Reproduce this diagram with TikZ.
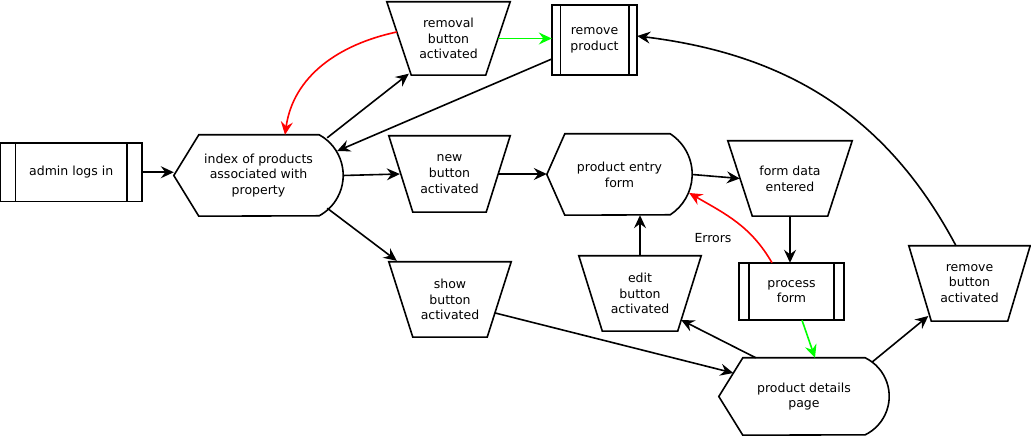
\documentclass[tikz,border=0pt]{standalone}
\usepackage{fontspec}
\setmainfont{DejaVu Sans}
\usetikzlibrary{arrows.meta}
\tikzset{
  box/.style={draw=none, inner sep=0pt, align=center, font=\fontsize{12.5}{15.8}\selectfont},
  outline/.style={draw=black, line width=1.6pt, line join=miter},
  conn/.style={line width=1.6pt, -{Stealth[length=13pt,width=12pt,inset=4.5pt]}},
}
\newcommand\trapout[2]{\draw[outline] (#1.north west) -- (#1.north east) -- ([xshift=-#2pt]#1.south east) -- ([xshift=#2pt]#1.south west) -- cycle;}
\newcommand\predout[2]{\draw[outline] (#1.south west) rectangle (#1.north east);
  \draw[outline] ([xshift=#2pt]#1.south west) -- ([xshift=#2pt]#1.north west);
  \draw[outline] ([xshift=-#2pt]#1.south east) -- ([xshift=-#2pt]#1.north east);}
\newcommand\dispout[5]{\draw[outline] (#1.west) -- ([xshift=#2pt]#1.north west) -- ([xshift=-#3pt]#1.north east) arc[start angle=#4, end angle=-#4, radius=#5pt] -- ([xshift=#2pt]#1.south west) -- cycle;}
\begin{document}
\begin{tikzpicture}[x=1pt,y=1pt]
\useasboundingbox (0,0) rectangle (1031,436);
% nodes
\node[box, minimum width=141pt, minimum height=58.5pt] (admin) at (71.25,263.75) {admin logs in};
\node[box, minimum width=169pt, minimum height=81pt] (idx) at (258.5,260.5) {index of products\\associated with\\property};
\node[box, minimum width=123pt, minimum height=73pt] (rem) at (448.5,397.5) {removal\\button\\activated};
\node[box, minimum width=85pt, minimum height=70pt] (rp) at (594.5,396) {remove\\product};
\node[box, minimum width=121pt, minimum height=76pt] (new) at (449.5,262) {new\\button\\activated};
\node[box, minimum width=145pt, minimum height=81pt] (pef) at (619.5,261.5) {product entry\\form};
\node[box, minimum width=124pt, minimum height=75pt] (fde) at (790,257.5) {form data\\entered};
\node[box, minimum width=105pt, minimum height=57pt] (pf) at (791.5,144.5) {process\\form};
\node[box, minimum width=122pt, minimum height=75pt] (edit) at (640,142.5) {edit\\button\\activated};
\node[box, minimum width=122pt, minimum height=75pt] (show) at (450,136.5) {show\\button\\activated};
\node[box, minimum width=170pt, minimum height=77pt] (pdp) at (804,39.5) {product details\\page};
\node[box, minimum width=121pt, minimum height=75pt] (rba) at (969.5,152.5) {remove\\button\\activated};
% outlines
\predout{admin}{15}
\dispout{idx}{25}{24}{61.3}{46.17}
\trapout{rem}{24.5}
\predout{rp}{8.5}
\trapout{new}{24}
\dispout{pef}{18}{22}{57.0}{48.28}
\trapout{fde}{24.5}
\predout{pf}{10}
\trapout{edit}{23.5}
\trapout{show}{24}
\dispout{pdp}{24}{24}{63.9}{42.88}
\trapout{rba}{22.5}
% connectors
\draw[conn] (admin.east) -- (admin.east -| idx.west);
\draw[conn] ([shift={(-16,-3)}]idx.north east) -- ([shift={(22,1.5)}]rem.south west);
\draw[conn] ([yshift=-19pt]rp.west) -- ([shift={(-6,24.5)}]idx.east);
\draw[conn] (idx.east) -- ([xshift=11pt]new.west);
\draw[conn] ([shift={(-16,8)}]idx.south east) -- ([shift={(8,1)}]show.north west);
\draw[conn] ([xshift=-11.5pt]new.east) -- (new.east -| pef.west);
\draw[conn, green] ([xshift=-12pt]rem.east) -- (rem.east -| rp.west);
\draw[conn, red] ([shift={(10,6.5)}]rem.west) to[out=192, in=82] ([xshift=26.5pt]idx.north);
\draw[conn] ([xshift=-13.5pt]rba.north) to[out=118, in=-7] ([yshift=4pt]rp.east);
\draw[conn] (pef.east) -- ([xshift=12pt]fde.west);
\draw[conn] (fde.south) -- (fde.south |- pf.north);
\draw[conn] (edit.north) -- (edit.north |- pef.south);
\draw[conn, red] ([xshift=-19.5pt]pf.north) to[out=120, in=-30] ([shift={(-3,-18.5)}]pef.east);
\node[box] (err) at (713,198) {Errors};
\draw[conn, green] ([xshift=10.5pt]pf.south) -- ([xshift=11pt]pdp.north);
\draw[conn] ([xshift=37pt]pdp.north west) -- ([shift={(-20,-26.5)}]edit.east);
\draw[conn] ([shift={(-16,-13.5)}]show.east) -- ([shift={(14.5,23.5)}]pdp.west);
\draw[conn] ([shift={(-17,34.5)}]pdp.east) -- ([shift={(19.5,-32.5)}]rba.west);
\end{tikzpicture}
\end{document}
